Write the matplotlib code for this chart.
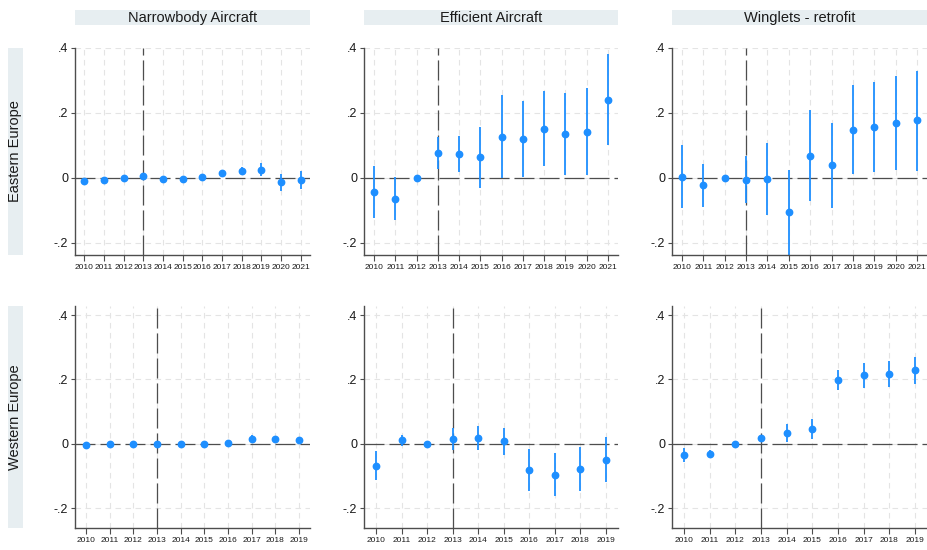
import matplotlib.pyplot as plt
import numpy as np

plt.rcParams['font.family'] = ['Liberation Sans', 'DejaVu Sans']

years_east = list(range(2010, 2022))
years_west = list(range(2010, 2020))

col_titles = ['Narrowbody Aircraft', 'Efficient Aircraft', 'Winglets - retrofit']
row_titles = ['Eastern Europe', 'Western Europe']

# Eastern Europe: point estimates and 95% CI bounds
narrow_east = [-0.010, -0.007, 0.0, 0.007, -0.002, -0.003, 0.004, 0.016, 0.023, 0.025, -0.013, -0.006]
narrow_east_lo = [-0.015, -0.012, 0.0, 0.002, -0.006, -0.007, 0.0, 0.009, 0.011, 0.005, -0.039, -0.034]
narrow_east_hi = [-0.005, -0.002, 0.0, 0.012, 0.002, 0.001, 0.008, 0.023, 0.035, 0.046, 0.013, 0.020]

eff_east = [-0.044, -0.064, 0.0, 0.076, 0.073, 0.064, 0.127, 0.119, 0.152, 0.136, 0.142, 0.241]
eff_east_lo = [-0.122, -0.130, 0.0, 0.027, 0.017, -0.030, 0.0, 0.002, 0.036, 0.010, 0.008, 0.100]
eff_east_hi = [0.036, 0.002, 0.0, 0.125, 0.129, 0.157, 0.254, 0.236, 0.267, 0.263, 0.276, 0.383]

wing_east = [0.003, -0.022, 0.0, -0.007, -0.004, -0.106, 0.069, 0.040, 0.149, 0.157, 0.170, 0.177]
wing_east_lo = [-0.093, -0.088, 0.0, -0.078, -0.114, -0.245, -0.071, -0.091, 0.013, 0.018, 0.025, 0.023]
wing_east_hi = [0.100, 0.044, 0.0, 0.068, 0.107, 0.025, 0.210, 0.170, 0.286, 0.294, 0.313, 0.330]

# Western Europe
narrow_west = [-0.003, -0.001, -0.001, 0.0, -0.001, -0.001, 0.003, 0.016, 0.015, 0.013]
narrow_west_lo = [-0.006, -0.004, -0.004, -0.003, -0.004, -0.004, -0.001, 0.006, 0.006, 0.004]
narrow_west_hi = [0.0, 0.002, 0.002, 0.003, 0.002, 0.002, 0.007, 0.026, 0.024, 0.022]

eff_west = [-0.068, 0.011, 0.0, 0.016, 0.019, 0.008, -0.081, -0.097, -0.079, -0.050]
eff_west_lo = [-0.114, -0.006, 0.0, -0.020, -0.020, -0.035, -0.147, -0.164, -0.148, -0.120]
eff_west_hi = [-0.023, 0.027, 0.0, 0.048, 0.056, 0.050, -0.016, -0.030, -0.011, 0.022]

wing_west = [-0.034, -0.032, 0.0, 0.019, 0.034, 0.046, 0.198, 0.213, 0.216, 0.228]
wing_west_lo = [-0.056, -0.045, 0.0, 0.012, 0.006, 0.015, 0.166, 0.174, 0.176, 0.185]
wing_west_hi = [-0.014, -0.020, 0.0, 0.026, 0.060, 0.077, 0.230, 0.251, 0.256, 0.269]

panels = [
    [(narrow_east, narrow_east_lo, narrow_east_hi),
     (eff_east, eff_east_lo, eff_east_hi),
     (wing_east, wing_east_lo, wing_east_hi)],
    [(narrow_west, narrow_west_lo, narrow_west_hi),
     (eff_west, eff_west_lo, eff_west_hi),
     (wing_west, wing_west_lo, wing_west_hi)],
]
row_years = [years_east, years_west]
row_ylims = [(-0.237, 0.40), (-0.262, 0.428)]

W, H = 927, 550
fig = plt.figure(figsize=(W / 100, H / 100), dpi=100)

# panel boxes in pixels (left, right) and (top, bottom)
cols_px = [(75, 310), (364, 618), (672, 927)]
rows_px = [(48, 255), (306, 528)]

strip_color = '#e7eef1'
dot_color = '#1e8fff'
line_color = '#4d4d4d'
grid_color = '#e4e4e4'


def px_box(x0, x1, y0, y1):
    return [x0 / W, 1 - y1 / H, (x1 - x0) / W, (y1 - y0) / H]


# column headers
for c, title in enumerate(col_titles):
    x0, x1 = cols_px[c]
    sax = fig.add_axes(px_box(x0, x1, 10, 25))
    sax.set_facecolor(strip_color)
    sax.set_xticks([]); sax.set_yticks([])
    for s in sax.spines.values():
        s.set_visible(False)
    sax.text(0.5, 0.45, title, ha='center', va='center', fontsize=10.5, color='#1a1a1a',
             transform=sax.transAxes)

for r in range(2):
    y0, y1 = rows_px[r]
    # row label strip
    rax = fig.add_axes(px_box(8, 23, y0, y1))
    rax.set_facecolor(strip_color)
    rax.set_xticks([]); rax.set_yticks([])
    for s in rax.spines.values():
        s.set_visible(False)
    rax.text(0.5, 0.5, row_titles[r], ha='center', va='center', rotation=90,
             fontsize=10.5, color='#1a1a1a', transform=rax.transAxes)

    years = row_years[r]
    for c in range(3):
        x0, x1 = cols_px[c]
        ax = fig.add_axes(px_box(x0, x1, y0, y1))
        coef, lo, hi = panels[r][c]

        ax.set_xlim(years[0] - 0.47, years[-1] + 0.47)
        ax.set_ylim(*row_ylims[r])

        # light dashed grid
        for yr in years:
            ax.axvline(yr, color=grid_color, lw=0.8, dashes=(5, 4), zorder=0)
        for yv in [-0.2, 0, 0.2, 0.4]:
            ax.axhline(yv, color=grid_color, lw=0.8, dashes=(5, 4), zorder=0)

        # reference lines
        ax.axhline(0, color=line_color, lw=0.9, dashes=(16, 4), zorder=1)
        ax.axvline(2013, color=line_color, lw=0.9, dashes=(16, 4), zorder=1)

        ax.vlines(years, lo, hi, color=dot_color, lw=1.3, zorder=2)
        ax.plot(years, coef, 'o', color=dot_color, ms=4.6, zorder=3)

        ax.set_yticks([-0.2, 0, 0.2, 0.4])
        ax.set_yticklabels(['-.2', '0', '.2', '.4'])
        ax.set_xticks(years)
        ax.set_xticklabels([str(y) for y in years])
        ax.tick_params(axis='y', labelsize=9, length=3, width=0.8, color=line_color,
                       pad=2, labelcolor='#1a1a1a')
        ax.tick_params(axis='x', labelsize=6.0, length=4, width=0.8, color=line_color,
                       pad=2.5, labelcolor='#1a1a1a')
        for side in ['top', 'right']:
            ax.spines[side].set_visible(False)
        for side in ['left', 'bottom']:
            ax.spines[side].set_color(line_color)
            ax.spines[side].set_linewidth(1.0)
        ax.set_facecolor('none')

fig.savefig('out.png', dpi=100)
